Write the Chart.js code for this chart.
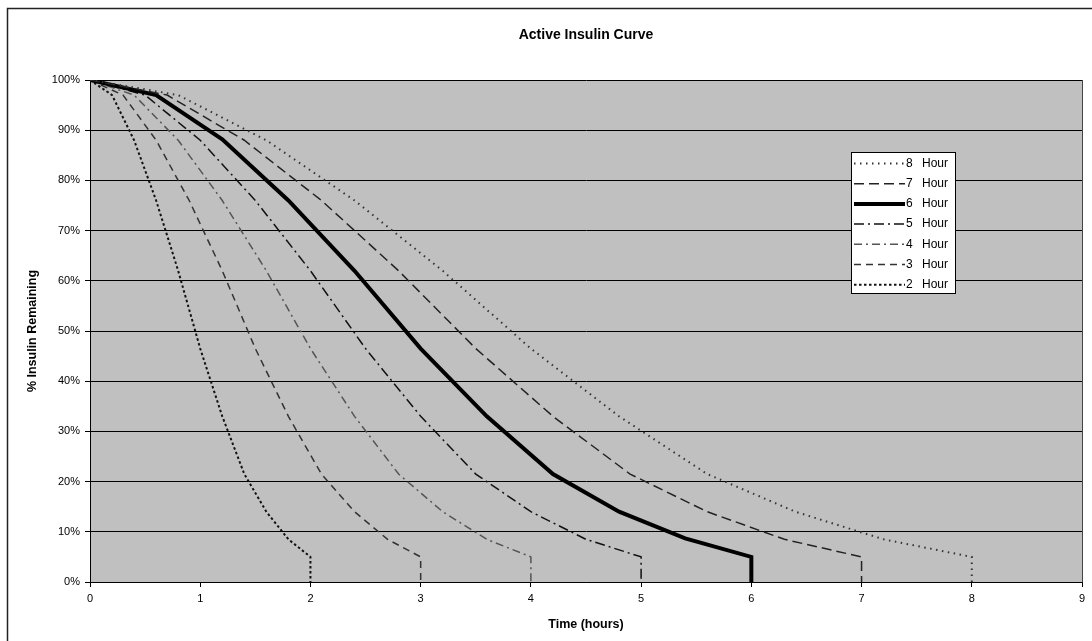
<!DOCTYPE html>
<html>
<head>
<meta charset="utf-8">
<title>Active Insulin Curve</title>
<script src="https://cdn.jsdelivr.net/npm/chart.js@4.4.0/dist/chart.umd.min.js"></script>
<style>
    html, body { margin: 0; padding: 0; background: #fff; }
    #wrap { width: 1092px; height: 641px; }
</style>
</head>
<body>
<div id="wrap"><canvas id="insulinChart" width="1092" height="641"></canvas></div>
<script>
// time points (hours) for each duration curve, last point drops to 0
const times8 = [0, 0.8, 1.6, 2.4, 3.2, 4.0, 4.8, 5.6, 6.4, 7.2, 8, 8];
const times7 = [0, 0.7, 1.4, 2.1, 2.8, 3.5, 4.2, 4.9, 5.6, 6.3, 7, 7];
const times6 = [0, 0.6, 1.2, 1.8, 2.4, 3.0, 3.6, 4.2, 4.8, 5.4, 6, 6];
const times5 = [0, 0.5, 1.0, 1.5, 2.0, 2.5, 3.0, 3.5, 4.0, 4.5, 5, 5];
const times4 = [0, 0.4, 0.8, 1.2, 1.6, 2.0, 2.4, 2.8, 3.2, 3.6, 4, 4];
const times3 = [0, 0.3, 0.6, 0.9, 1.2, 1.5, 1.8, 2.1, 2.4, 2.7, 3, 3];
const times2 = [0, 0.2, 0.4, 0.6, 0.8, 1.0, 1.2, 1.4, 1.6, 1.8, 2, 2];

// % insulin remaining
const remaining8 = [100, 97, 88, 76, 62, 46.5, 33, 21.5, 14, 8.5, 5, 0];
const remaining7 = [100, 97, 88, 76, 62, 46.5, 33, 21.5, 14, 8.5, 5, 0];
const remaining6 = [100, 97, 88.2, 76, 62, 46.5, 33, 21.5, 14, 8.7, 5, 0];
const remaining5 = [100, 97, 88, 76, 62, 46.5, 33, 21.5, 14, 8.5, 5, 0];
const remaining4 = [100, 97, 88, 76, 62, 46.5, 33, 21.5, 14, 8.5, 5, 0];
const remaining3 = [100, 97, 88, 76, 62, 46.5, 33, 21.5, 14, 8.5, 5, 0];
const remaining2 = [100, 97, 88, 76, 62, 46.5, 33, 21.5, 14, 8.5, 5, 0];

const seriesLabels = ['8 Hour', '7 Hour', '6 Hour', '5 Hour', '4 Hour', '3 Hour', '2 Hour'];

function toPoints(times, values) {
    return times.map((t, i) => ({ x: t, y: values[i] }));
}

Chart.defaults.font.family = 'Arial, "Liberation Sans", sans-serif';
Chart.defaults.color = '#000';

// gray plot area, outer frame and right edge of the plot
const plotBackground = {
    id: 'plotBackground',
    beforeDraw(chart) {
        const { ctx, chartArea: a } = chart;
        ctx.save();
        ctx.fillStyle = '#c0c0c0';
        ctx.fillRect(a.left, a.top, a.right - a.left, a.bottom - a.top);
        ctx.strokeStyle = '#222';
        ctx.lineWidth = 1.5;
        ctx.beginPath();
        ctx.moveTo(7.5, 641);
        ctx.lineTo(7.5, 8.5);
        ctx.lineTo(1092, 8.5);
        ctx.stroke();
        ctx.strokeStyle = '#444';
        ctx.lineWidth = 1;
        ctx.beginPath();
        ctx.moveTo(Math.round(a.right) + 0.5, a.top);
        ctx.lineTo(Math.round(a.right) + 0.5, a.bottom);
        ctx.stroke();
        ctx.restore();
    }
};

// boxed legend inside the plot, like the spreadsheet original
const boxLegend = {
    id: 'boxLegend',
    afterDraw(chart) {
        const ctx = chart.ctx;
        const x0 = 851, y0 = 152, w = 104, h = 141;
        ctx.save();
        ctx.fillStyle = '#fff';
        ctx.fillRect(x0, y0, w, h);
        ctx.strokeStyle = '#000';
        ctx.lineWidth = 1;
        ctx.strokeRect(x0 + 0.5, y0 + 0.5, w, h);
        chart.data.datasets.forEach((ds, i) => {
            const y = y0 + 11.5 + i * 20.2;
            ctx.strokeStyle = ds.borderColor;
            ctx.lineWidth = ds.borderWidth;
            ctx.lineCap = ds.borderCapStyle || 'butt';
            ctx.setLineDash(ds.borderDash || []);
            ctx.beginPath();
            ctx.moveTo(x0 + 3, y);
            ctx.lineTo(x0 + 54, y);
            ctx.stroke();
            ctx.setLineDash([]);
            const parts = ds.label.split(' ');
            ctx.fillStyle = '#000';
            ctx.font = '12px Arial, "Liberation Sans", sans-serif';
            ctx.textBaseline = 'middle';
            ctx.fillText(parts[0], x0 + 55, y);
            ctx.fillText(parts[1], x0 + 71, y);
        });
        ctx.restore();
    }
};

const ctx = document.getElementById('insulinChart').getContext('2d');
const insulinChart = new Chart(ctx, {
    type: 'line',
    data: {
        datasets: [
            {
                label: seriesLabels[0],
                data: toPoints(times8, remaining8),
                borderColor: '#333',
                borderWidth: 2,
                borderDash: [1.5, 4.5]
            },
            {
                label: seriesLabels[1],
                data: toPoints(times7, remaining7),
                borderColor: '#222',
                borderWidth: 1.5,
                borderDash: [10, 5]
            },
            {
                label: seriesLabels[2],
                data: toPoints(times6, remaining6),
                borderColor: '#000',
                borderWidth: 4
            },
            {
                label: seriesLabels[3],
                data: toPoints(times5, remaining5),
                borderColor: '#111',
                borderWidth: 1.5,
                borderDash: [10, 4, 2, 4]
            },
            {
                label: seriesLabels[4],
                data: toPoints(times4, remaining4),
                borderColor: '#555',
                borderWidth: 1.5,
                borderDash: [8, 4, 2, 4]
            },
            {
                label: seriesLabels[5],
                data: toPoints(times3, remaining3),
                borderColor: '#333',
                borderWidth: 1.5,
                borderDash: [7, 5]
            },
            {
                label: seriesLabels[6],
                data: toPoints(times2, remaining2),
                borderColor: '#111',
                borderWidth: 2,
                borderDash: [2.5, 2.5]
            }
        ]
    },
    options: {
        responsive: false,
        animation: false,
        elements: {
            point: { radius: 0 },
            line: { tension: 0 }
        },
        layout: {
            padding: { left: 0, right: 10, top: 0, bottom: 0 }
        },
        plugins: {
            legend: { display: false },
            tooltip: { enabled: false },
            title: {
                display: true,
                text: 'Active Insulin Curve',
                fullSize: false,
                font: { size: 14, weight: 'bold' },
                color: '#000',
                padding: { top: 26.6, bottom: 36.6 }
            }
        },
        scales: {
            x: {
                type: 'linear',
                min: 0,
                max: 9,
                ticks: {
                    stepSize: 1,
                    maxRotation: 0,
                    padding: 5,
                    font: { size: 11 },
                    color: '#000'
                },
                grid: {
                    drawOnChartArea: false,
                    tickLength: 5,
                    color: '#000'
                },
                border: { color: '#000', width: 1 },
                title: {
                    display: true,
                    text: 'Time (hours)',
                    font: { size: 12.5, weight: 'bold' },
                    color: '#000',
                    padding: { top: 0, bottom: 8.5 }
                },
                afterFit(scale) { scale.height = 59; }
            },
            y: {
                min: 0,
                max: 100,
                ticks: {
                    stepSize: 10,
                    padding: 5,
                    font: { size: 11 },
                    color: '#000',
                    callback: v => v + '%'
                },
                grid: {
                    color: '#000',
                    lineWidth: 1,
                    tickLength: 5
                },
                border: { color: '#000', width: 1 },
                title: {
                    display: true,
                    text: '% Insulin Remaining',
                    font: { size: 12.5, weight: 'bold' },
                    color: '#000',
                    padding: { top: 25.5, bottom: 0 }
                },
                afterFit(scale) { scale.width = 90; }
            }
        }
    },
    plugins: [plotBackground, boxLegend]
});
</script>
</body>
</html>
